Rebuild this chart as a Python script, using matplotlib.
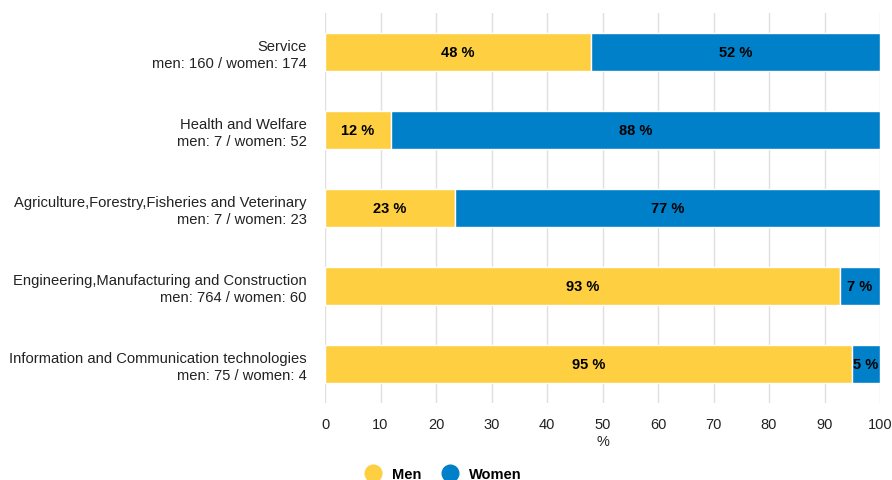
import numpy as np
import matplotlib.pyplot as plt
from matplotlib.lines import Line2D

plt.rcParams['font.family'] = ['Liberation Sans', 'DejaVu Sans']

fields = ["Service", "Health and Welfare",
          "Agriculture,Forestry,Fisheries and Veterinary",
          "Engineering,Manufacturing and Construction",
          "Information and Communication technologies"]
men = np.array([160, 7, 7, 764, 75])
women = np.array([174, 52, 23, 60, 4])

men_pct = men / (men + women) * 100
women_pct = women / (men + women) * 100

c_men = "#fdcf41"
c_women = "#0080c9"

fig = plt.figure(figsize=(8.92, 4.81), dpi=100)
ax = fig.add_axes([325 / 892, 1 - 404 / 481, 555 / 892, 390 / 481])

y = np.arange(len(fields))
ax.barh(y, men_pct, height=0.48, color=c_men, edgecolor="white", linewidth=1, zorder=3)
ax.barh(y, women_pct, left=men_pct, height=0.48, color=c_women, edgecolor="white",
        linewidth=1, zorder=3)

for i in range(len(fields)):
    ax.text(men_pct[i] / 2, y[i], f"{men_pct[i]:.0f} %", ha="center", va="center",
            fontsize=10.5, fontweight="bold", color="black", zorder=4)
    ax.text(men_pct[i] + women_pct[i] / 2, y[i], f"{women_pct[i]:.0f} %", ha="center",
            va="center", fontsize=10.5, fontweight="bold", color="black", zorder=4)

ax.set_ylim(4.5, -0.5)
ax.set_xlim(0, 100)
ax.set_yticks(y)
ax.set_yticklabels([f"{f}\nmen: {m} / women: {w}" for f, m, w in zip(fields, men, women)],
                   fontsize=10.6, color="#222222", linespacing=1.2)
ax.set_xticks(np.arange(0, 101, 10))
ax.tick_params(axis="x", labelsize=10.5, colors="#222222", length=0, pad=10)
ax.tick_params(axis="y", length=0, pad=13)
ax.grid(axis="x", color="#e0e0e0", linewidth=1, zorder=0)
for s in ax.spines.values():
    s.set_visible(False)
ax.set_xlabel("%", fontsize=10.5, color="#222222", labelpad=2)

handles = [Line2D([], [], marker="o", linestyle="", markersize=12, color=c_men),
           Line2D([], [], marker="o", linestyle="", markersize=12, color=c_women)]
leg = fig.legend(handles, ["Men", "Women"], loc="center", bbox_to_anchor=(440 / 892, 1 - 475 / 481),
                 ncol=2, frameon=False, handletextpad=0.3, columnspacing=1.0,
                 prop={"weight": "bold", "size": 10.5})

fig.savefig("out.png", dpi=100)
